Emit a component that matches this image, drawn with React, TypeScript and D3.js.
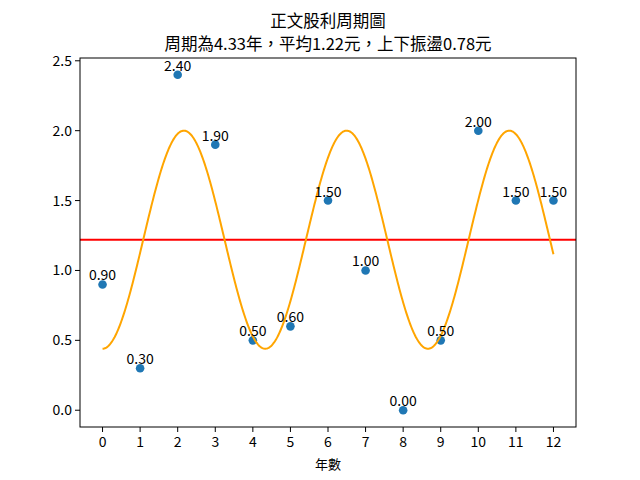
import React from "react";
import * as d3 from "d3";

const years = [0, 1, 2, 3, 4, 5, 6, 7, 8, 9, 10, 11, 12];
const dividends = [0.9, 0.3, 2.4, 1.9, 0.5, 0.6, 1.5, 1.0, 0.0, 0.5, 2.0, 1.5, 1.5];
const xTicks = [0, 1, 2, 3, 4, 5, 6, 7, 8, 9, 10, 11, 12];
const yTicks = [0.0, 0.5, 1.0, 1.5, 2.0, 2.5];
const period = 4.33;
const mean = 1.22;
const amplitude = 0.78;
const titleLine1 = "正文股利周期圖";
const titleLine2 = "周期為4.33年，平均1.22元，上下振盪0.78元";
const xLabel = "年數";

const W = 640, H = 480;
const L = 80, R = 576, T = 58, B = 427;
const FONT = "'Noto Sans CJK TC', 'Noto Sans', sans-serif";

export default function App() {
  const x = d3.scaleLinear().domain([-0.6, 12.6]).range([L, R]);
  const y = d3.scaleLinear().domain([-0.12, 2.52]).range([B, T]);
  const curveX = d3.range(0, 12.0001, 0.02);
  const fit = (t: number) => mean + amplitude * Math.sin((2 * Math.PI * t) / period - Math.PI / 2);
  const line = d3.line<number>().x((d) => x(d)).y((d) => y(fit(d)));
  return (
    <svg width={W} height={H} style={{ position: "absolute", left: 0, top: 0, background: "#fff" }} fontFamily={FONT}>
      <rect x={0} y={0} width={W} height={H} fill="#fff" />
      <text x={(L + R) / 2} y={27} textAnchor="middle" fontSize={16.5} fill="#000">{titleLine1}</text>
      <text x={(L + R) / 2} y={50} textAnchor="middle" fontSize={16.5} fill="#000">{titleLine2}</text>
      <g>
        {years.map((yr, i) => (
          <circle key={i} cx={x(yr)} cy={y(dividends[i])} r={4.3} fill="#1f77b4" />
        ))}
      </g>
      <line x1={L} x2={R} y1={y(mean)} y2={y(mean)} stroke="red" strokeWidth={2} />
      <path d={line(curveX) || ""} fill="none" stroke="orange" strokeWidth={2} />
      <g>
        {years.map((yr, i) => (
          <text key={i} x={x(yr)} y={y(dividends[i]) - 4} textAnchor="middle" fontSize={14} fill="#000">
            {dividends[i].toFixed(2)}
          </text>
        ))}
      </g>
      <rect x={L} y={T} width={R - L} height={B - T} fill="none" stroke="#000" strokeWidth={1} />
      {xTicks.map((t) => (
        <g key={t}>
          <line x1={x(t)} x2={x(t)} y1={B} y2={B + 5} stroke="#000" />
          <text x={x(t)} y={B + 20} textAnchor="middle" fontSize={14} fill="#000">{t}</text>
        </g>
      ))}
      {yTicks.map((t) => (
        <g key={t}>
          <line x1={L - 5} x2={L} y1={y(t)} y2={y(t)} stroke="#000" />
          <text x={L - 8} y={y(t) + 5} textAnchor="end" fontSize={14} fill="#000">{t.toFixed(1)}</text>
        </g>
      ))}
      <text x={(L + R) / 2} y={469} textAnchor="middle" fontSize={13} fill="#000">{xLabel}</text>
    </svg>
  );
}
